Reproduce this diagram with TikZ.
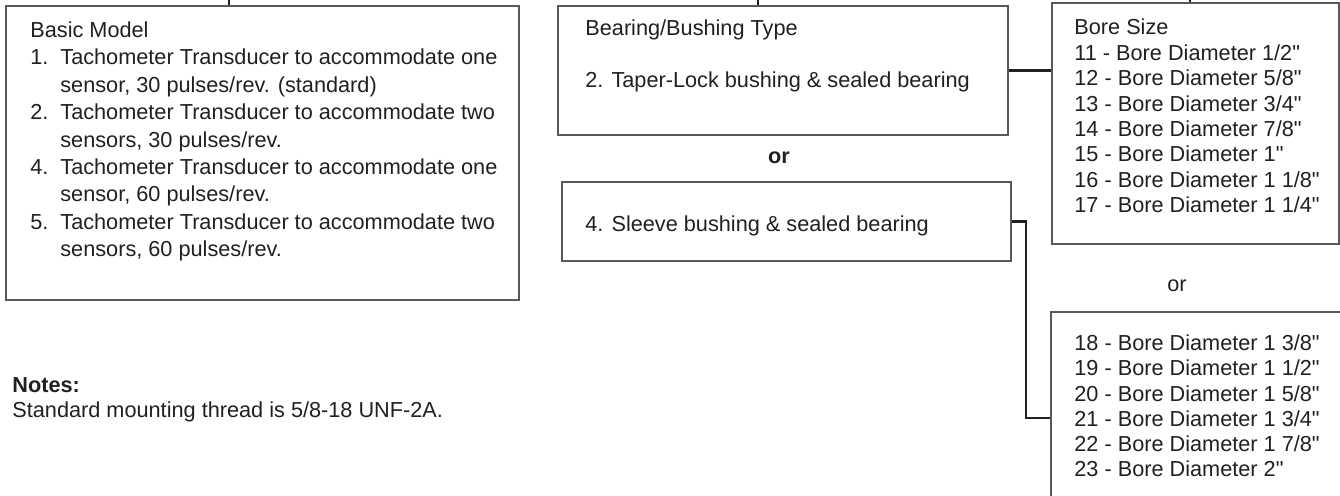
\documentclass[tikz,border=0pt]{standalone}
\usepackage{fontspec}
\setmainfont{Liberation Sans}[Ligatures=TeXOff]
\usetikzlibrary{fit}

\definecolor{boxgray}{RGB}{88,88,88}
\definecolor{inkblack}{RGB}{35,31,32}

\newcommand{\itm}[1]{\makebox[15pt][l]{#1}}
\newcommand{\ind}{\hspace*{15pt}}

\tikzset{
  box/.style={draw=boxgray, line width=0.75pt, inner sep=0pt},
  link/.style={draw=inkblack, line width=1.1pt},
  txt/.style={inner sep=0pt, anchor=base west, text=inkblack},
}

\begin{document}
\begin{tikzpicture}[x=0.5pt, y=-0.5pt]
\useasboundingbox (0,0) rectangle (1340,496);
\begin{scope}
\clip (0,0) rectangle (1340,496);

%Basic Model
\node[box, fit={(6,6) (519,300)}] (basic) {};
\node[txt, font=\fontsize{10.85}{13.7}\selectfont] (basictxt) at (30,37.5) {%
\begin{tabular}[t]{@{}l@{}}
Basic Model\\
\itm{1.}Tachometer Transducer to accommodate one\\
\ind sensor, 30 pulses/rev. (standard)\\
\itm{2.}Tachometer Transducer to accommodate two\\
\ind sensors, 30 pulses/rev.\\
\itm{4.}Tachometer Transducer to accommodate one\\
\ind sensor, 60 pulses/rev.\\
\itm{5.}Tachometer Transducer to accommodate two\\
\ind sensors, 60 pulses/rev.
\end{tabular}};

%Bearing/Bushing Type
\node[box, fit={(558,6) (1008,135)}] (taper) {};
\node[txt, font=\fontsize{10.85}{12.9}\selectfont] (tapertxt) at (585,35.7) {%
\begin{tabular}[t]{@{}l@{}}
Bearing/Bushing Type\\
\\
2. Taper-Lock bushing \& sealed bearing
\end{tabular}};

\node[inner sep=0pt, anchor=base, text=inkblack, font=\fontsize{10.85}{13}\selectfont\bfseries] (or1) at (779,164) {or};

\node[box, fit={(562,182) (1011,261)}] (sleeve) {};
\node[txt, font=\fontsize{10.85}{13}\selectfont] (sleevetxt) at (585,231.7) {4. Sleeve bushing \& sealed bearing};

%Bore Size
\node[box, fit={(1052,3) (1339,244)}] (bore1) {};
\node[txt, font=\fontsize{10.85}{12.7}\selectfont] (bore1txt) at (1074,35) {%
\begin{tabular}[t]{@{}l@{}}
Bore Size\\
11 - Bore Diameter 1/2"\\
12 - Bore Diameter 5/8"\\
13 - Bore Diameter 3/4"\\
14 - Bore Diameter 7/8"\\
15 - Bore Diameter 1"\\
16 - Bore Diameter 1 1/8"\\
17 - Bore Diameter 1 1/4"
\end{tabular}};

\node[inner sep=0pt, anchor=base, text=inkblack, font=\fontsize{10.85}{13}\selectfont] (or2) at (1177,291.7) {or};

\node[box, fit={(1051,312) (1360,524)}] (bore2) {};
\node[txt, font=\fontsize{10.85}{12.6}\selectfont] (bore2txt) at (1074,350.7) {%
\begin{tabular}[t]{@{}l@{}}
18 - Bore Diameter 1 3/8"\\
19 - Bore Diameter 1 1/2"\\
20 - Bore Diameter 1 5/8"\\
21 - Bore Diameter 1 3/4"\\
22 - Bore Diameter 1 7/8"\\
23 - Bore Diameter 2"
\end{tabular}};

%Notes
\node[txt, font=\fontsize{10.85}{12.5}\selectfont] (notes) at (12,392.3) {%
\begin{tabular}[t]{@{}l@{}}
\textbf{Notes:}\\
Standard mounting thread is 5/8-18 UNF-2A.
\end{tabular}};

%connectors
\coordinate (top1) at (229,0);
\coordinate (top2) at (758,0);
\coordinate (top3) at (1190,0);
\draw[link] (top1) -- (top1 |- basic.north);
\draw[link] (top2) -- (top2 |- taper.north);
\draw[link] (top3) -- (top3 |- bore1.north);
\draw[link] (taper.east) -- (taper.east -| bore1.west);
\draw[link] (sleeve.east) -- ++(14,0) |- (bore2.west);

\end{scope}
\end{tikzpicture}
\end{document}
